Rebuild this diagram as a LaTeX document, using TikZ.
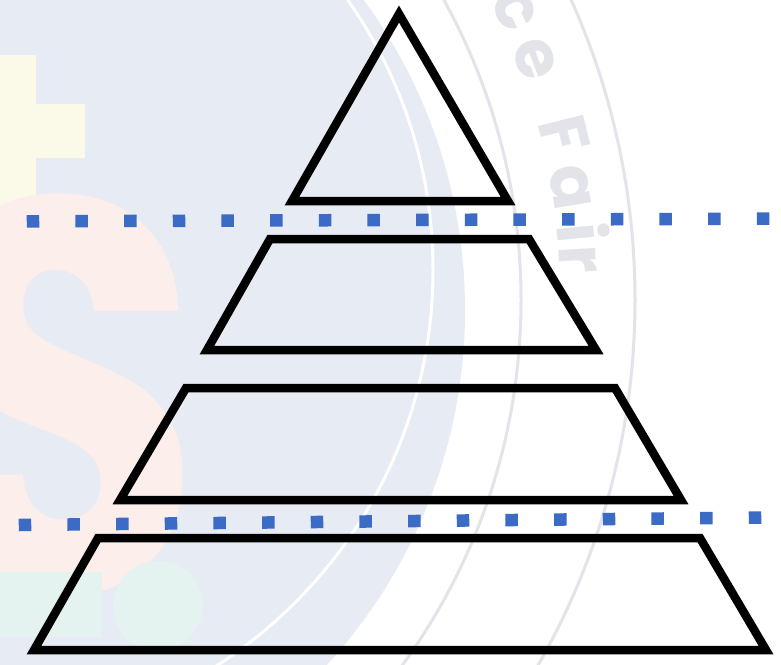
\documentclass[tikz,border=0pt]{standalone}
\usepackage{fontspec}
\newfontfamily\wmfont{Poppins}
\definecolor{discbg}{HTML}{E7EBF4}
\definecolor{wmyellow}{HTML}{FBFAE9}
\definecolor{wmpink}{HTML}{FBEEEB}
\definecolor{wmgreen}{HTML}{E4F3F0}
\definecolor{wmgray}{HTML}{E3E4E9}
\definecolor{dotblue}{HTML}{3B6BC4}
\begin{document}
\begin{tikzpicture}[x=1pt,y=-1pt,
  layer/.style={draw=black, line width=8.5pt, line join=miter, miter limit=10},
  dotline/.style={draw=dotblue, line width=12.5pt, dash pattern=on 12.5pt off 36.17pt},
  wmletter/.style={text=wmgray, font=\wmfont\bfseries\fontsize{66}{66}\selectfont, inner sep=0pt, anchor=base},
  wmring/.style={draw=wmgray, line width=3pt}]
\useasboundingbox (0,0) rectangle (781,664);
\clip (0,0) rectangle (781,664);
\fill[white] (0,0) rectangle (781,664);
% watermark background
\fill[discbg] (-60,310) circle[radius=525];
\fill[wmyellow] (-30,55) rectangle (36,213);
\fill[wmyellow] (36,104) rectangle (85,158);
\node[text=wmpink, inner sep=0pt, anchor=base, font=\wmfont\bfseries\fontsize{560}{560}\selectfont] (bigS) at (62,592) {\scalebox{0.82}[1]{S}};
\fill[wmgreen] (-10,572) rectangle (102,637);
\fill[wmgreen] (158,606) circle[radius=45];
\draw[white, line width=3pt] (-37,270) circle[radius=470];
\draw[wmring] (-100,300) circle[radius=621];
\draw[wmring] (-100,300) circle[radius=735];
\node[wmletter, rotate=-65] (wc) at ({-100+661*cos(25.3)},{300-661*sin(25.3)}) {c};
\node[wmletter, rotate=-69.5] (we) at ({-100+661*cos(20.8)},{300-661*sin(20.8)}) {e};
\node[wmletter, rotate=-76] (wF) at ({-100+661*cos(14)},{300-661*sin(14)}) {F};
\node[wmletter, rotate=-80.5] (wa) at ({-100+661*cos(9.5)},{300-661*sin(9.5)}) {a};
\node[wmletter, rotate=-84.35] (wi) at ({-100+661*cos(5.65)},{300-661*sin(5.65)}) {i};
\node[wmletter, rotate=-86.6] (wr) at ({-100+661*cos(3.4)},{300-661*sin(3.4)}) {r};
% pyramid
\coordinate (a1) at (399,14);
\coordinate (a2) at (508,201);
\coordinate (a3) at (292,201);
\coordinate (b1) at (270,239);
\coordinate (b2) at (529,239);
\coordinate (b3) at (596,350);
\coordinate (b4) at (207,350);
\coordinate (c1) at (186,388);
\coordinate (c2) at (615,388);
\coordinate (c3) at (681,500);
\coordinate (c4) at (120,500);
\coordinate (e1) at (98,538);
\coordinate (e2) at (700,538);
\coordinate (e3) at (766,650);
\coordinate (e4) at (34,650);
\draw[layer] (a1) -- (a2) -- (a3) -- cycle;
\draw[layer] (b1) -- (b2) -- (b3) -- (b4) -- cycle;
\draw[layer] (c1) -- (c2) -- (c3) -- (c4) -- cycle;
\draw[layer] (e1) -- (e2) -- (e3) -- (e4) -- cycle;
% dotted separators
\coordinate (u1) at (26.75,221.3);
\coordinate (u2) at (769.3,218.7);
\coordinate (l1) at (18.75,525);
\coordinate (l2) at (761.3,517.5);
\draw[dotline] (u1) -- (u2);
\draw[dotline] (l1) -- (l2);
\end{tikzpicture}
\end{document}
